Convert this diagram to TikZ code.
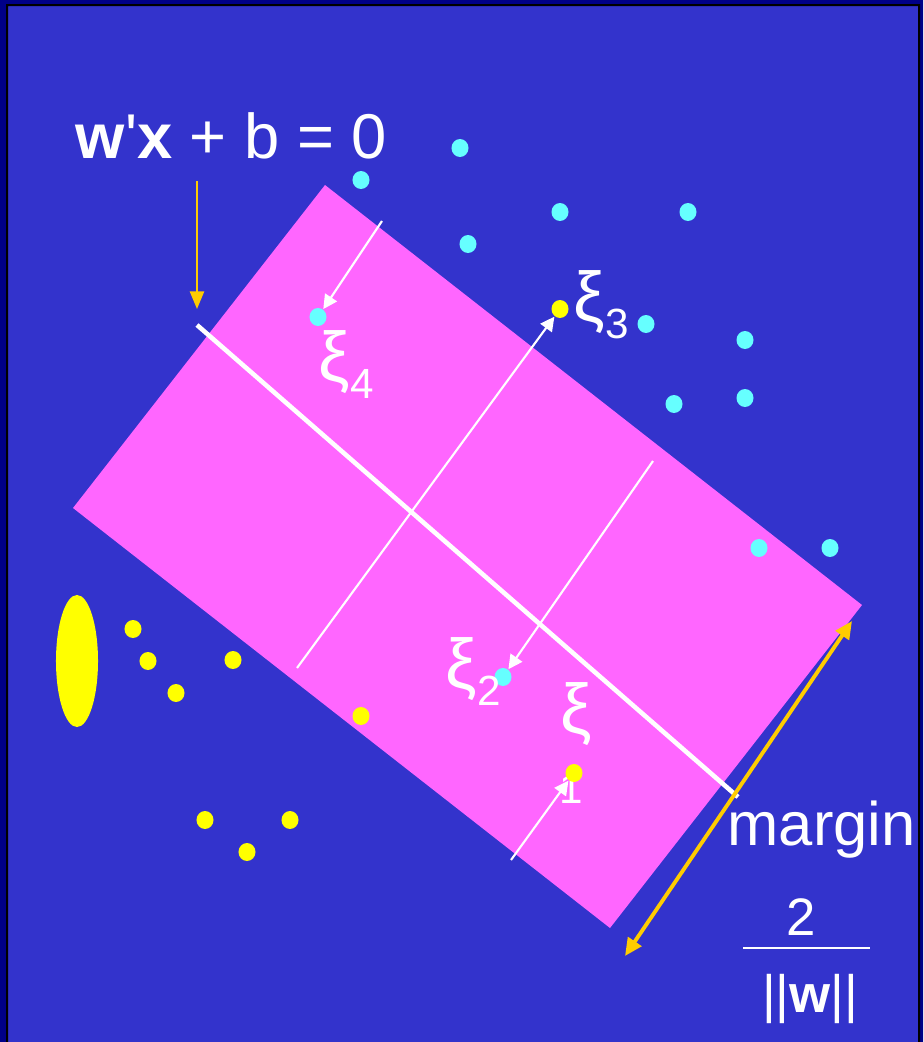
\documentclass[tikz,border=0pt]{standalone}
\usepackage{fontspec}
\setmainfont{Liberation Sans}
\usetikzlibrary{arrows.meta,shapes.geometric}
\definecolor{svmnavy}{RGB}{0,0,136}
\definecolor{svmblue}{RGB}{51,51,204}
\definecolor{svmpink}{RGB}{255,102,255}
\definecolor{svmcyan}{RGB}{102,255,255}
\definecolor{svmyellow}{RGB}{255,255,0}
\definecolor{svmorange}{RGB}{255,204,0}
\newcommand{\xisub}[1]{ξ\raisebox{-0.25em}{\fontsize{12}{14}\selectfont #1}}

\begin{document}
\begin{tikzpicture}[x=0.01cm, y=-0.01cm, every node/.style={text=white, inner sep=0pt},
  cdot/.style={ellipse, fill=svmcyan, minimum width=0.17cm, minimum height=0.18cm},
  ydot/.style={ellipse, fill=svmyellow, minimum width=0.17cm, minimum height=0.18cm},
  lbl/.style={font=\fontsize{18}{20}\selectfont, anchor=base west},
  xilbl/.style={font=\fontsize{20}{22}\selectfont, anchor=base west},
  slack/.style={-{Triangle[length=4pt,width=4pt]}, white, line width=0.6pt},
  gold/.style={svmorange, line width=0.6pt}]
\useasboundingbox (0,0) rectangle (923,1042);
\fill[svmblue] (0,0) rectangle (923,1042);
% margin band
\fill[svmpink] (325,185) -- (862,605) -- (610,928) -- (73,508) -- cycle;
% hyperplane
\coordinate (hpA) at (197,325);
\coordinate (hpB) at (738,797);
\draw[white, line width=1.3pt] (hpA) -- (hpB);
% class +1 (cyan)
\node[cdot] (c1) at (361,180) {};
\node[cdot] (c2) at (460,148) {};
\node[cdot] (c3) at (468,244) {};
\node[cdot] (c4) at (560,212) {};
\node[cdot] (c5) at (688,212) {};
\node[cdot] (c6) at (318,317) {};
\node[cdot] (c7) at (646,324) {};
\node[cdot] (c8) at (745,340) {};
\node[cdot] (c9) at (674,404) {};
\node[cdot] (c10) at (745,398) {};
\node[cdot] (c11) at (759,548) {};
\node[cdot] (c12) at (830,548) {};
\node[cdot] (c13) at (503,677) {};
% class -1 (yellow)
\node[ellipse, fill=svmyellow, minimum width=0.42cm, minimum height=1.32cm] (blob) at (77,661) {};
\node[ydot] (y1) at (560,309) {};
\node[ydot] (y2) at (133,629) {};
\node[ydot] (y3) at (148,661) {};
\node[ydot] (y4) at (233,660) {};
\node[ydot] (y5) at (176,693) {};
\node[ydot] (y6) at (361,716) {};
\node[ydot] (y8) at (205,820) {};
\node[ydot] (y9) at (290,820) {};
\node[ydot] (y10) at (247,852) {};
% slack labels
\node[xilbl] (xi4) at (318,381) {\xisub{4}};
\node[xilbl] (xi3) at (573,321) {\xisub{3}};
\node[xilbl] (xi2) at (445,688) {\xisub{2}};
\node[xilbl] (xi1) at (560,733) {ξ};
\node[font=\fontsize{12}{14}\selectfont, anchor=base] (one) at (571,803) {1};
\node[ydot] (y7) at (574,773) {};
% slack arrows
\coordinate (s4) at (382,221);
\coordinate (s3) at (297,668);
\coordinate (s2) at (653,461);
\coordinate (s1) at (511,860);
\draw[slack] (s4) -- (c6);
\draw[slack] (s3) -- (y1);
\draw[slack] (s2) -- (c13);
\draw[slack] (s1) -- (y7);
% equation
\node[lbl] (eqn) at (75,158) {\textbf{w}\textquotesingle\textbf{x} + b = 0};
\coordinate (eqA) at (197,181);
\coordinate (eqB) at (197,309);
\draw[gold, -{Triangle[length=5pt,width=4pt]}] (eqA) -- (eqB);
% margin width
\coordinate (mgA) at (625,956);
\coordinate (mgB) at (852,621);
\draw[gold, line width=1.1pt, {Triangle[length=5pt,width=4.5pt]}-{Triangle[length=5pt,width=4.5pt]}] (mgA) -- (mgB);
\node[font=\fontsize{17.5}{20}\selectfont, anchor=base west] (mrg) at (727,845) {margin};
\node[font=\fontsize{15}{17}\selectfont, anchor=base] (two) at (801,935) {2};
\draw[white, line width=0.6pt] (743,948) -- (870,948);
\node[font=\fontsize{15}{17}\selectfont, anchor=base] (norm) at (810,1012) {||\textbf{w}||};
% frame
\fill[svmnavy, even odd rule] (0,0) rectangle (923,1042) (6,4) rectangle (920,1042);
\fill[black, even odd rule] (6,4) rectangle (920,1042) (8,6) rectangle (918,1042);
\end{tikzpicture}
\end{document}
